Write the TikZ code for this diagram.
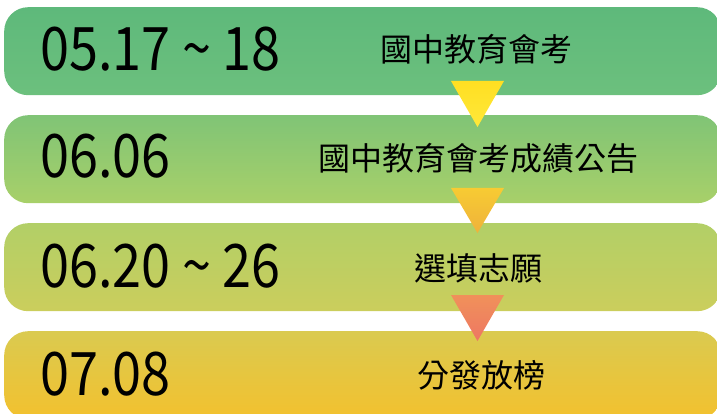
\documentclass[tikz,border=0pt]{standalone}
\usepackage{fontspec}
\newfontfamily\cjk{Noto Sans CJK TC}
\definecolor{bAt}{HTML}{5EB97B}\definecolor{bAb}{HTML}{6CC07D}
\definecolor{bBt}{HTML}{80C476}\definecolor{bBb}{HTML}{A8D069}
\definecolor{bCt}{HTML}{B2CF67}\definecolor{bCb}{HTML}{CBCE5C}
\definecolor{bDt}{HTML}{DACA50}\definecolor{bDb}{HTML}{F3C12E}
\definecolor{tAt}{HTML}{FFDF22}\definecolor{tAb}{HTML}{FFE83A}
\definecolor{tBt}{HTML}{F7CB33}\definecolor{tBb}{HTML}{EFB23B}
\definecolor{tCt}{HTML}{F0915A}\definecolor{tCb}{HTML}{EE7763}
\newcommand{\narrowdate}[1]{\scalebox{0.87}[1]{#1}}
\tikzset{
  bar/.style={rectangle, rounded corners=24pt, minimum width=717pt, minimum height=88pt, inner sep=0pt, anchor=north west},
  datetext/.style={font=\cjk\fontsize{60}{60}\selectfont, anchor=base west, inner sep=0pt, text=black},
  eventtext/.style={font=\cjk\fontsize{32}{32}\selectfont, anchor=center, inner sep=0pt, text=black},
}
\begin{document}
\begin{tikzpicture}[x=1pt,y=-1pt]
\useasboundingbox (0,0) rectangle (717,414);
\clip (0,0) rectangle (717,414);
\node[bar, top color=bAt, bottom color=bAb] (b1) at (4,7) {};
\node[bar, top color=bBt, bottom color=bBb] (b2) at (4,115) {};
\node[bar, top color=bCt, bottom color=bCb] (b3) at (4,223) {};
\node[bar, top color=bDt, bottom color=bDb] (b4) at (4,331) {};
\node[datetext] (d1) at (40,71) {\narrowdate{05.17 \textasciitilde{} 18}};
\node[datetext] (d2) at (40,178) {\narrowdate{06.06}};
\node[datetext] (d3) at (40,287) {\narrowdate{06.20 \textasciitilde{} 26}};
\node[datetext] (d4) at (40,395) {\narrowdate{07.08}};
\node[eventtext] (e1) at (476,49) {國中教育會考};
\node[eventtext] (e2) at (478,158) {國中教育會考成績公告};
\node[eventtext] (e3) at (478,268) {選填志願};
\node[eventtext] (e4) at (481,375) {分發放榜};
\shade[top color=tAt, bottom color=tAb] (451,81) -- (504,81) -- (477.5,127) -- cycle;
\shade[top color=tBt, bottom color=tBb] (451,188) -- (504,188) -- (477.5,233) -- cycle;
\shade[top color=tCt, bottom color=tCb] (451,295) -- (504,295) -- (477.5,341) -- cycle;
\end{tikzpicture}
\end{document}
